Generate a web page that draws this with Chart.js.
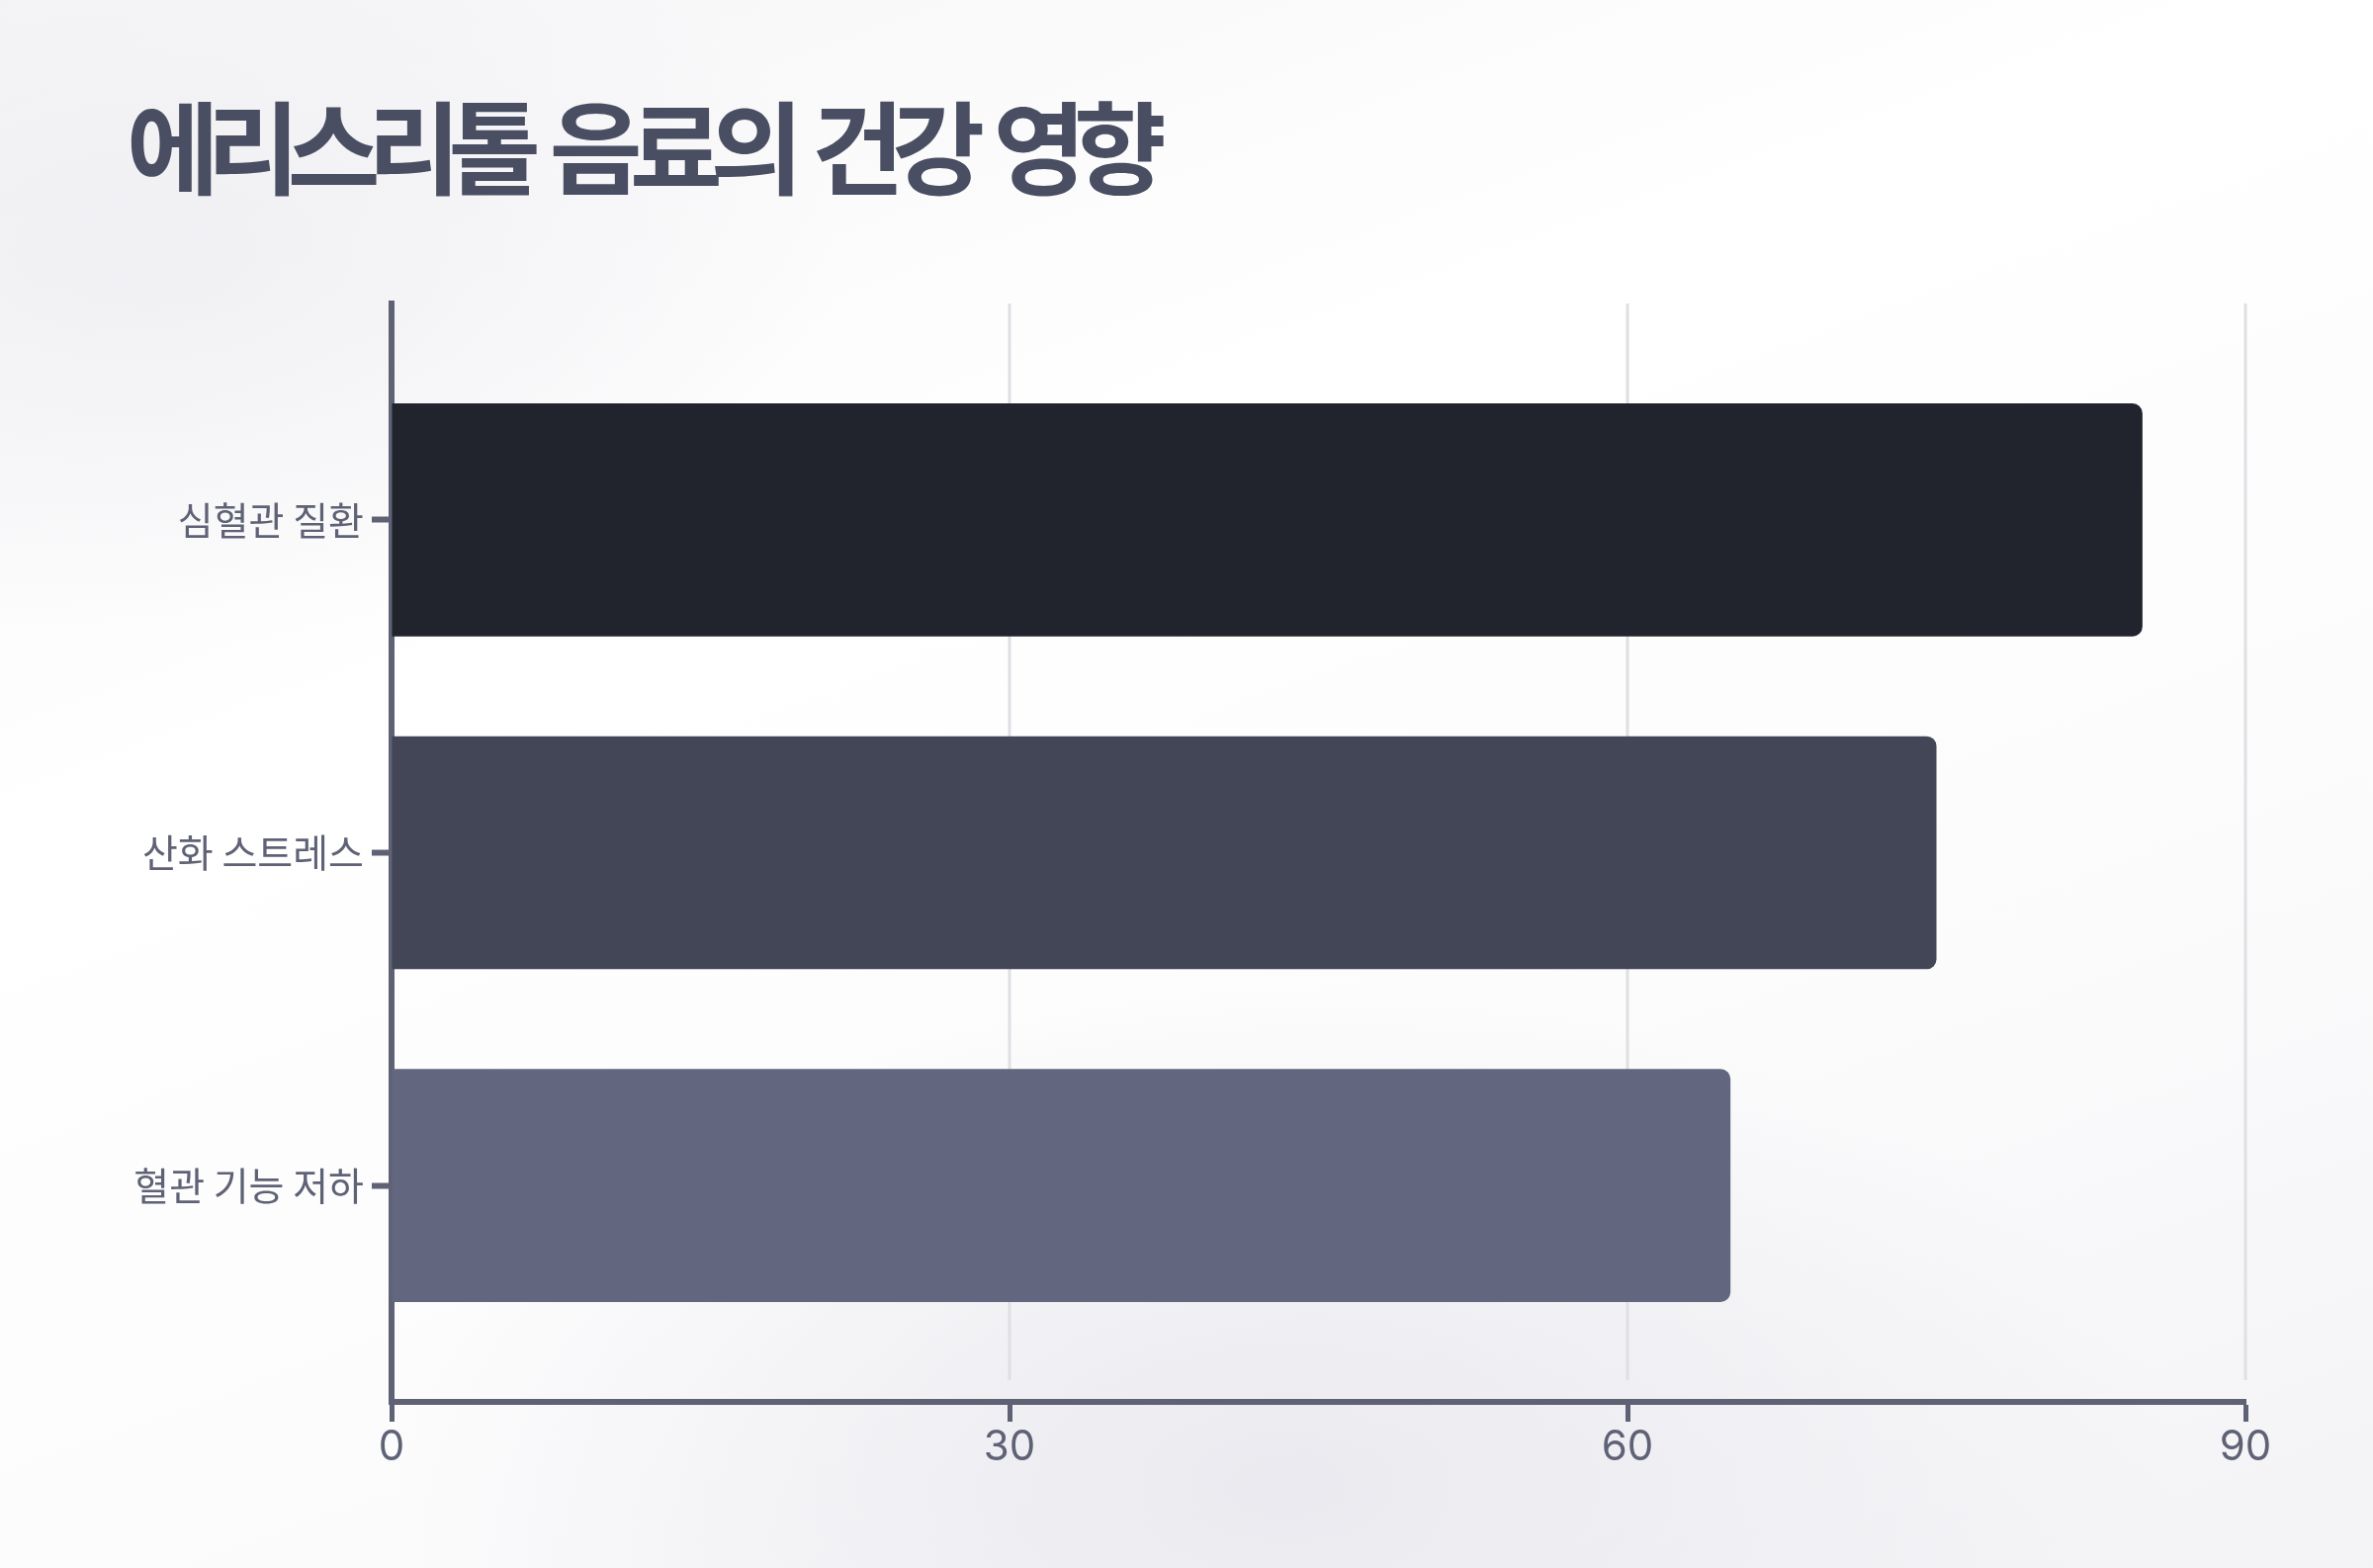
<!DOCTYPE html>
<html lang="ko">
<head>
<meta charset="utf-8">
<title>에리스리톨 음료의 건강 영향</title>
<script src="https://cdn.jsdelivr.net/npm/chart.js@4.4.1/dist/chart.umd.min.js"></script>
<style>
  html, body {
    margin: 0;
    padding: 0;
    width: 2400px;
    height: 1586px;
    overflow: hidden;
  }
  body {
    position: relative;
    background:
      radial-gradient(ellipse 900px 500px at 1300px 1500px, rgba(232,232,238,0.9), rgba(232,232,238,0) 100%),
      radial-gradient(ellipse 700px 400px at 150px 250px, rgba(238,238,242,0.8), rgba(238,238,242,0) 100%),
      linear-gradient(160deg, #f5f5f7 0%, #ffffff 35%, #fbfbfc 70%, #f3f3f6 100%);
    font-family: "Noto Sans CJK KR", "Noto Sans", sans-serif;
  }
  h1 {
    position: absolute;
    left: 128px;
    top: 84px;
    margin: 0;
    font-size: 102px;
    font-weight: 700;
    letter-spacing: -12.5px;
    word-spacing: 5px;
    color: #4a4e62;
    line-height: 1.2;
    white-space: nowrap;
  }
  #wrap {
    position: absolute;
    left: 0;
    top: 0;
    width: 2400px;
    height: 1586px;
  }
</style>
</head>
<body>
<h1>에리스리톨 음료의 건강 영향</h1>
<div id="wrap"><canvas id="myChart" width="2400" height="1586"></canvas></div>
<script>
const categories = ['심혈관 질환', '산화 스트레스', '혈관 기능 저하'];
const impactValues = [85, 75, 65];
const xTicks = [0, 30, 60, 90];

const barColors = ['#21242c', '#434657', '#62667e'];
const axisColor = '#5f6275';
const gridColor = '#dfdfe4';

const ctx = document.getElementById('myChart').getContext('2d');

// vertical grid lines that stop a little above the x axis, like the reference
const shortGrid = {
  id: 'shortGrid',
  beforeDatasetsDraw(chart) {
    const { ctx, chartArea, scales } = chart;
    const x = scales.x;
    ctx.save();
    ctx.strokeStyle = gridColor;
    ctx.lineWidth = 3;
    x.ticks.forEach(t => {
      const px = x.getPixelForValue(t.value);
      if (px <= chartArea.left + 2) return;
      ctx.beginPath();
      ctx.moveTo(px, chartArea.top);
      ctx.lineTo(px, chartArea.bottom - 22);
      ctx.stroke();
    });
    ctx.restore();
  }
};

const points = impactValues.map((v, i) => ({ x: v, y: i }));

const chart = new Chart(ctx, {
  type: 'bar',
  data: {
    datasets: [{
      data: points,
      backgroundColor: barColors,
      borderRadius: 10,
      borderSkipped: 'start',
      barPercentage: 0.7,
      categoryPercentage: 1
    }]
  },
  options: {
    indexAxis: 'y',
    responsive: false,
    devicePixelRatio: 1,
    animation: false,
    layout: {
      padding: { top: 307, right: 129, bottom: 0, left: 0 }
    },
    plugins: {
      legend: { display: false },
      tooltip: { enabled: false },
      title: { display: false }
    },
    scales: {
      x: {
        type: 'linear',
        min: 0,
        max: 90,
        afterBuildTicks(scale) {
          scale.ticks = xTicks.map(v => ({ value: v }));
        },
        afterFit(scale) {
          scale.height = 168;
        },
        ticks: {
          color: axisColor,
          padding: 1,
          font: { family: 'Inter, "Liberation Sans", sans-serif', size: 42 }
        },
        grid: {
          drawOnChartArea: false,
          tickColor: axisColor,
          tickWidth: 5,
          tickLength: 20
        },
        border: { color: axisColor, width: 6 }
      },
      y: {
        type: 'linear',
        reverse: true,
        offset: false,
        z: 1,
        min: -0.65,
        max: 2.65,
        afterBuildTicks(scale) {
          scale.ticks = categories.map((c, i) => ({ value: i }));
        },
        afterFit(scale) {
          scale.width = 396;
        },
        ticks: {
          color: axisColor,
          padding: 8,
          autoSkip: false,
          callback: (v) => categories[v],
          font: { family: '"Noto Sans CJK KR", sans-serif', size: 39 }
        },
        grid: {
          offset: false,
          drawOnChartArea: false,
          tickColor: axisColor,
          tickWidth: 6,
          tickLength: 20
        },
        border: { color: axisColor, width: 6 }
      }
    }
  },
  plugins: [shortGrid]
});
</script>
</body>
</html>
